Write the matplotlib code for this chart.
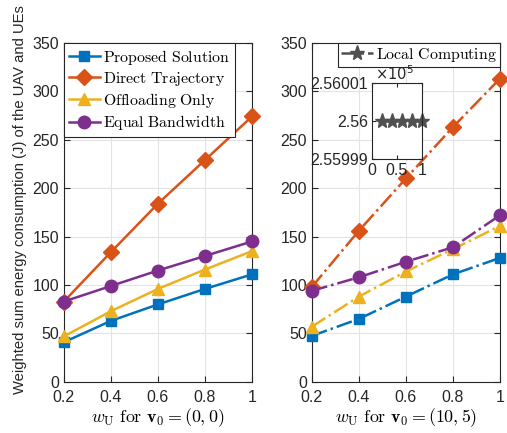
import matplotlib
matplotlib.use("Agg")
import matplotlib.pyplot as plt

plt.rcParams['font.family'] = ['Liberation Sans', 'DejaVu Sans']
plt.rcParams['mathtext.fontset'] = 'cm'
plt.rcParams['font.size'] = 11.5

w_u = [0.2, 0.4, 0.6, 0.8, 1.0]

# v0 = (0,0)
proposed_a = [41, 63, 80, 96, 111]
direct_a = [83, 134, 184, 229, 274]
offload_a = [47, 73, 96, 116, 135]
equal_a = [83, 99, 115, 130, 145]

# v0 = (10,5)
proposed_b = [47.5, 65, 88, 111, 128]
direct_b = [98, 156, 210, 263, 313]
offload_b = [57, 88, 114, 137, 161]
equal_b = [94, 108, 124, 139, 172]
local_b = [2.56e5] * 5

names = ['Proposed Solution', 'Direct Trajectory', 'Offloading Only', 'Equal Bandwidth']
colors = ['#0072BD', '#D95319', '#EDB120', '#7E2F8E']
markers = ['s', 'D', '^', 'o']
msizes = [7, 8, 9, 9]


def style(ax):
    ax.set_xlim(0.2, 1.0)
    ax.set_ylim(0, 350)
    ax.set_xticks(w_u)
    ax.set_xticklabels(['0.2', '0.4', '0.6', '0.8', '1'])
    ax.set_yticks(range(0, 351, 50))
    ax.grid(True, color='#e3e3e3', linewidth=0.8)
    ax.set_axisbelow(True)
    ax.tick_params(direction='in', length=4, top=True, right=True, colors='#262626')
    ax.tick_params(axis='x', pad=6)
    for s in ax.spines.values():
        s.set_color('#262626')
        s.set_linewidth(0.8)


fig = plt.figure(figsize=(5.07, 4.33), dpi=100)
ax1 = fig.add_axes([0.126, 0.118, 0.371, 0.783])
ax2 = fig.add_axes([0.615, 0.118, 0.371, 0.783])

data_a = [proposed_a, direct_a, offload_a, equal_a]
data_b = [proposed_b, direct_b, offload_b, equal_b]
for i in range(4):
    ax1.plot(w_u, data_a[i], '-', color=colors[i], marker=markers[i], ms=msizes[i],
             lw=1.8, label=r'$\mathrm{%s}$' % names[i].replace(' ', r'\ '), clip_on=False, zorder=3)
    ax2.plot(w_u, data_b[i], '-.', color=colors[i], marker=markers[i], ms=msizes[i],
             lw=1.8, clip_on=False, zorder=3)

style(ax1)
style(ax2)

ax1.set_xlabel(r'$w_{\mathrm{U}}\ \mathrm{for}\ \mathbf{v}_0=(0,0)$', fontsize=12.9, labelpad=1)
ax2.set_xlabel(r'$w_{\mathrm{U}}\ \mathrm{for}\ \mathbf{v}_0=(10,5)$', fontsize=12.9, labelpad=1)
fig.text(0.040, 0.54, 'Weighted sum energy consumption (J) of the UAV and UEs',
         rotation=90, ha='center', va='center', fontsize=10.6, color='#262626')

leg1 = ax1.legend(loc='upper left', fontsize=11.4, handlelength=2.0, borderaxespad=0,
                  handletextpad=0.2, borderpad=0.3, labelspacing=0.2, fancybox=False,
                  edgecolor='#262626', framealpha=1)
leg1.get_frame().set_linewidth(0.8)

# local computing series (inset)
gray = '#505050'
h, = ax2.plot([], [], '-.', color=gray, marker='*', ms=11, lw=1.8,
              label=r'$\mathrm{Local\ Computing}$')
leg2 = ax2.legend(handles=[h], loc='upper right', fontsize=11.4, handlelength=2.0,
                  borderaxespad=0, handletextpad=0.2, borderpad=0.2, fancybox=False,
                  edgecolor='#262626', framealpha=1)
leg2.get_frame().set_linewidth(0.8)

axi = fig.add_axes([372 / 507, 1 - 159 / 433, 50 / 507, 76 / 433])
axi.plot(w_u, local_b, '-.', color=gray, marker='*', ms=11, lw=1.8, clip_on=False)
axi.set_xlim(0, 1)
axi.set_ylim(2.55999e5, 2.56001e5)
axi.set_xticks([0, 0.5, 1])
axi.set_xticklabels(['0', '0.5', '1'])
axi.set_yticks([2.55999e5, 2.56e5, 2.56001e5])
axi.set_yticklabels(['2.55999', '2.56', '2.56001'])
axi.tick_params(direction='in', length=3, top=True, right=True, colors='#262626', pad=3)
for s in axi.spines.values():
    s.set_color('#262626')
    s.set_linewidth(0.8)
axi.text(0.06, 0.995, r'$\times 10^5$', transform=axi.transAxes, fontsize=10.5,
         color='#262626', ha='left', va='bottom', math_fontfamily='dejavusans')

fig.savefig('out.png', dpi=100)
